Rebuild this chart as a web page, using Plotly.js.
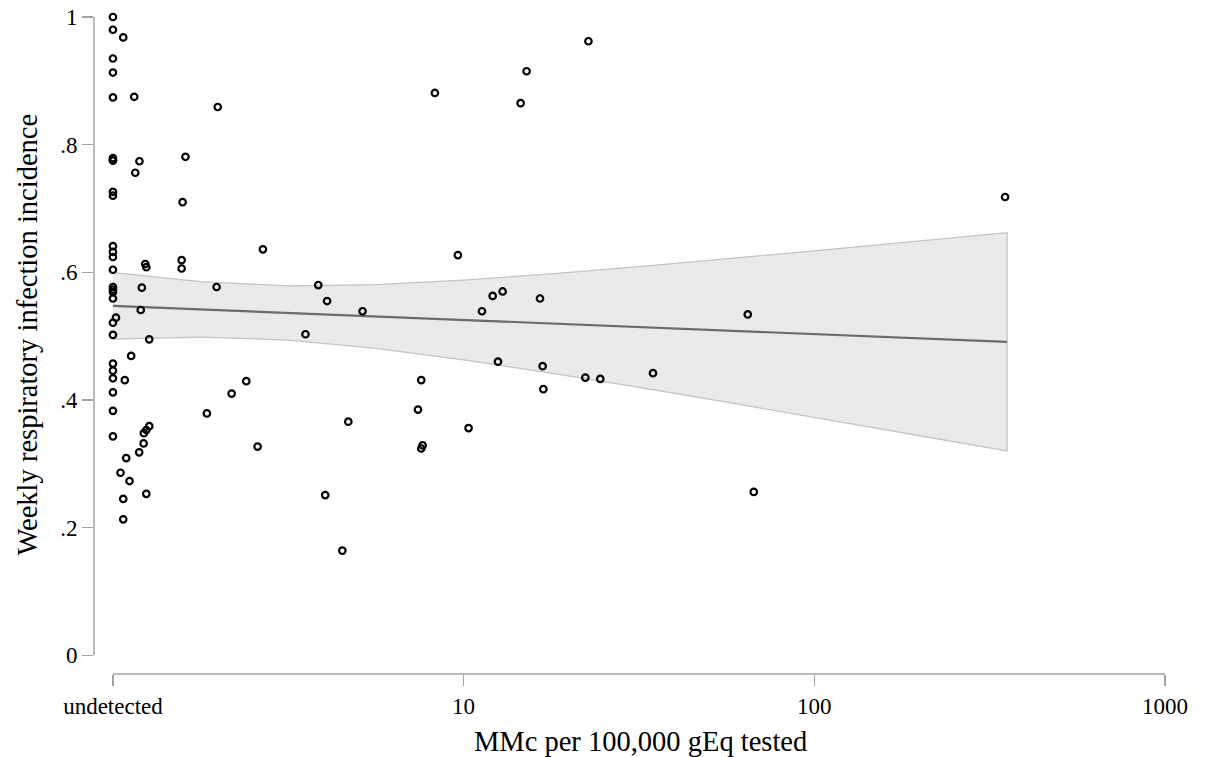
<!DOCTYPE html>
<html>
<head>
<meta charset="utf-8">
<script src="https://cdn.plot.ly/plotly-3.0.1.min.js"></script>
<style>
  html, body { margin: 0; padding: 0; background: #ffffff; }
  #chart { width: 1207px; height: 757px; }
</style>
</head>
<body>
<div id="chart"></div>
<script>
// MMc per 100,000 gEq tested (1 = undetected)
const mmc = [
  1, 1, 1, 1, 1, 1, 1, 1, 1, 1, 1, 1, 1, 1, 1, 1, 1, 1, 1, 1, 1, 1, 1, 1, 1, 1,
  1.07, 1.15, 1.99, 1.61, 1.19, 1.158, 1.58, 1.57, 1.57, 1.236, 1.245, 1.975, 1.209, 1.20,
  1.02, 1.269, 1.127, 1.081, 2.40, 2.18, 1.853, 1.269, 1.245, 1.225, 1.223, 1.188, 1.091,
  1.051, 1.115, 1.07, 1.245, 1.07, 2.677, 8.28, 14.54, 15.12, 22.69, 9.63, 3.85, 4.08, 5.15,
  3.54, 11.28, 12.10, 12.92, 16.51, 12.53, 16.80, 22.24, 24.53, 16.88, 7.57, 7.41, 4.69,
  10.33, 2.585, 7.64, 7.57, 4.03, 4.51, 349.9, 64.6, 34.67, 67.2
];
// Weekly respiratory infection incidence
const incidence = [
  1.0, 0.980, 0.935, 0.913, 0.874, 0.779, 0.776, 0.775, 0.726, 0.720, 0.641, 0.632, 0.624,
  0.604, 0.577, 0.573, 0.569, 0.559, 0.521, 0.502, 0.457, 0.446, 0.434, 0.412, 0.383, 0.343,
  0.968, 0.875, 0.859, 0.781, 0.774, 0.756, 0.710, 0.619, 0.606, 0.613, 0.608, 0.577, 0.576, 0.541,
  0.529, 0.495, 0.469, 0.431, 0.4295, 0.410, 0.379, 0.359, 0.353, 0.348, 0.332, 0.318, 0.309,
  0.286, 0.273, 0.245, 0.253, 0.213, 0.636, 0.881, 0.865, 0.915, 0.962, 0.627, 0.580, 0.555, 0.539,
  0.503, 0.539, 0.563, 0.570, 0.559, 0.460, 0.453, 0.435, 0.433, 0.417, 0.431, 0.385, 0.366,
  0.356, 0.327, 0.329, 0.324, 0.251, 0.164, 0.718, 0.534, 0.442, 0.256
];
// Linear fit and 95% CI
const fitX  = [1, 1.778, 3.162, 5.623, 10, 17.78, 31.62, 56.23, 100, 177.8, 354.6];
const fitY  = [0.5474, 0.5419, 0.5364, 0.5308, 0.5253, 0.5198, 0.5143, 0.5087, 0.5032, 0.4977, 0.4911];
const ciHi  = [0.5994, 0.5853, 0.5789, 0.5806, 0.5877, 0.5976, 0.6089, 0.6209, 0.6335, 0.6464, 0.6621];
const ciLo  = [0.4954, 0.4985, 0.4939, 0.4810, 0.4629, 0.4420, 0.4197, 0.3965, 0.3729, 0.3490, 0.3201];

const xTickVals = [1, 10, 100, 1000];
const xTickText = ['undetected', '10', '100', '1000'];
const yTickVals = [0, 0.2, 0.4, 0.6, 0.8, 1];
const yTickText = ['0', '.2', '.4', '.6', '.8', '1'];
const xTitle = 'MMc per 100,000 gEq tested';
const yTitle = 'Weekly respiratory infection incidence';

const bandX = fitX.concat(fitX.slice().reverse());
const bandY = ciHi.concat(ciLo.slice().reverse());

const FONT = 'Liberation Serif, Times New Roman, serif';
const AXIS_GRAY = '#a3a3a3';
const xMin = -0.054, xMax = 3;

const traces = [
  {
    x: bandX, y: bandY, type: 'scatter', mode: 'lines',
    fill: 'toself', fillcolor: '#eaeaea',
    line: { color: '#c4c4c4', width: 1.3 },
    hoverinfo: 'skip', showlegend: false
  },
  {
    x: fitX, y: fitY, type: 'scatter', mode: 'lines',
    line: { color: '#6b6b6b', width: 2.2 },
    hoverinfo: 'skip', showlegend: false
  },
  {
    x: mmc, y: incidence, type: 'scatter', mode: 'markers',
    marker: { symbol: 'circle-open', size: 6.5, color: '#000000',
              line: { color: '#000000', width: 2.2 } },
    cliponaxis: false, showlegend: false
  }
];

const layout = {
  width: 1207, height: 757,
  margin: { l: 94, r: 42, t: 17, b: 83, pad: 0 },
  paper_bgcolor: '#ffffff', plot_bgcolor: '#ffffff',
  showlegend: false,
  font: { family: FONT, color: '#000000', size: 23 },
  xaxis: {
    type: 'log', range: [xMin, xMax],
    tickvals: xTickVals, ticktext: xTickText,
    ticks: 'outside', ticklen: 11, tickwidth: 1.5, tickcolor: AXIS_GRAY,
    showline: false, showgrid: false, zeroline: false,
    tickfont: { family: FONT, size: 23, color: '#000000' },
    fixedrange: true
  },
  yaxis: {
    range: [-0.0293, 1],
    tickvals: yTickVals, ticktext: yTickText,
    ticks: 'outside', ticklen: 11, tickwidth: 1.5, tickcolor: AXIS_GRAY,
    showline: false, showgrid: false, zeroline: false,
    tickfont: { family: FONT, size: 23, color: '#000000' },
    fixedrange: true
  },
  annotations: [
    { text: xTitle, xref: 'paper', yref: 'paper', x: 0.5107, y: -0.102,
      xanchor: 'center', yanchor: 'middle', showarrow: false,
      font: { family: FONT, size: 28.5, color: '#000000' } },
    { text: yTitle, xref: 'paper', yref: 'paper', x: -0.0616, y: 0.5167,
      xanchor: 'center', yanchor: 'middle', textangle: -90, showarrow: false,
      font: { family: FONT, size: 28.5, color: '#000000' } }
  ],
  shapes: [
    { type: 'line', xref: 'paper', yref: 'y', x0: 0, x1: 0, y0: 0, y1: 1,
      line: { color: AXIS_GRAY, width: 1.5 } },
    { type: 'line', xref: 'paper', yref: 'paper', x0: (0 - xMin) / (xMax - xMin), x1: 1, y0: 0, y1: 0,
      line: { color: AXIS_GRAY, width: 1.5 } }
  ]
};

Plotly.newPlot('chart', traces, layout, { displayModeBar: false, staticPlot: true });
</script>
</body>
</html>
